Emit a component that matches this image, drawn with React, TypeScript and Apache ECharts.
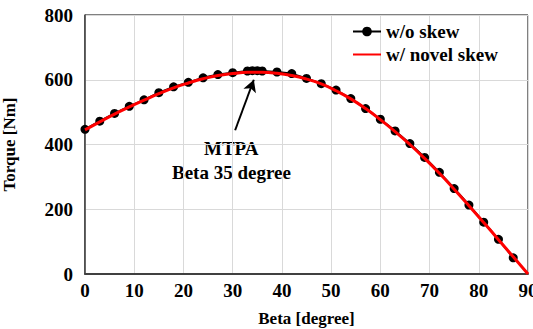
import React, { useEffect, useRef } from "react";
import * as echarts from "echarts";

const betaNoSkew = [0, 3, 6, 9, 12, 15, 18, 21, 24, 27, 30, 33, 34, 35, 36, 39, 42, 45, 48, 51, 54, 57, 60, 63, 66, 69, 72, 75, 78, 81, 84, 87];
const torqueNoSkew = [447, 472, 496, 518, 538, 560, 578, 592, 606, 616, 622, 627, 628, 628, 627, 624, 619, 604, 588, 568, 542, 511, 478, 442, 403, 360, 314, 264, 213, 160, 107, 50];

const betaSkew = [0, 3, 6, 9, 12, 15, 18, 21, 24, 27, 30, 33, 36, 39, 42, 45, 48, 51, 54, 57, 60, 63, 66, 69, 72, 75, 78, 81, 84, 87, 90];
const torqueSkew = [445, 470, 494, 516, 537, 557, 575, 590, 603, 613, 619, 623, 623, 620, 613, 602, 587, 566, 541, 511, 477, 440, 400, 357, 311, 262, 211, 159, 106, 53, 0];

const xTicks = { min: 0, max: 90, interval: 10 };
const yTicks = { min: 0, max: 800, interval: 200 };

const arrowTail = [30.5, 444];
const arrowTip = [34.3, 600];

const FONT = "Liberation Serif, Times New Roman, serif";

export default function App() {
  const ref = useRef<HTMLDivElement>(null);
  useEffect(() => {
    document.body.style.margin = "0";
    const chart = echarts.init(ref.current!, null, { renderer: "svg" });
    chart.setOption({
      animation: false,
      textStyle: { fontFamily: FONT },
      grid: {
        left: 85,
        right: 5,
        top: 15,
        bottom: 55,
        show: true,
        borderColor: "#000",
        borderWidth: 1,
        outerBoundsMode: "none",
        containLabel: false,
      },
      legend: {
        orient: "vertical",
        left: 347,
        top: 17,
        itemWidth: 28,
        itemHeight: 12,
        itemGap: 4,
        textStyle: {
          fontFamily: FONT,
          fontWeight: "bold",
          fontSize: 19,
          lineHeight: 19,
          color: "#000",
        },
        data: [
          { name: "w/o skew" },
          { name: "w/ novel skew", itemStyle: { opacity: 0 } },
        ],
      },
      xAxis: {
        type: "value",
        min: xTicks.min,
        max: xTicks.max,
        interval: xTicks.interval,
        name: "Beta [degree]",
        nameLocation: "middle",
        nameGap: 36,
        nameTextStyle: { fontFamily: FONT, fontWeight: "bold", fontSize: 17, color: "#000" },
        axisLine: { show: true, lineStyle: { color: "#404040", width: 2 } },
        axisTick: { show: false },
        axisLabel: { fontFamily: FONT, fontWeight: "bold", fontSize: 19, color: "#000", margin: 7 },
        splitLine: { show: true, lineStyle: { color: "#d9d9d9", width: 1 } },
      },
      yAxis: {
        type: "value",
        min: yTicks.min,
        max: yTicks.max,
        interval: yTicks.interval,
        name: "Torque [Nm]",
        nameLocation: "middle",
        nameGap: 67,
        nameTextStyle: { fontFamily: FONT, fontWeight: "bold", fontSize: 17, color: "#000" },
        axisLine: { show: true, lineStyle: { color: "#404040", width: 1.5 } },
        axisTick: { show: false },
        axisLabel: { fontFamily: FONT, fontWeight: "bold", fontSize: 19, color: "#000", margin: 12 },
        splitLine: { show: true, lineStyle: { color: "#d9d9d9", width: 1 } },
      },
      series: [
        {
          name: "w/o skew",
          type: "line",
          data: betaNoSkew.map((b, i) => [b, torqueNoSkew[i]]),
          symbol: "circle",
          symbolSize: 9,
          itemStyle: { color: "#000" },
          lineStyle: { color: "#000", width: 2 },
          z: 2,
          markLine: {
            silent: true,
            symbol: ["none", "arrow"],
            symbolSize: [10, 12],
            label: { show: false },
            lineStyle: { color: "#000", width: 2, type: "solid" },
            data: [[{ coord: arrowTail }, { coord: arrowTip }]],
          },
        },
        {
          name: "w/ novel skew",
          type: "line",
          data: betaSkew.map((b, i) => [b, torqueSkew[i]]),
          smooth: true,
          symbol: "none",
          itemStyle: { color: "#ff0000" },
          lineStyle: { color: "#ff0000", width: 3 },
          z: 3,
        },
      ],
      graphic: [
        {
          type: "text",
          left: 204,
          top: 139,
          style: {
            text: "MTPA",
            font: `bold 19px ${FONT}`,
            fill: "#000",
          },
        },
        {
          type: "text",
          left: 172,
          top: 163,
          style: {
            text: "Beta 35 degree",
            font: `bold 19px ${FONT}`,
            fill: "#000",
          },
        },
      ],
    });
    return () => chart.dispose();
  }, []);
  return <div ref={ref} style={{ width: 533, height: 329 }} />;
}
